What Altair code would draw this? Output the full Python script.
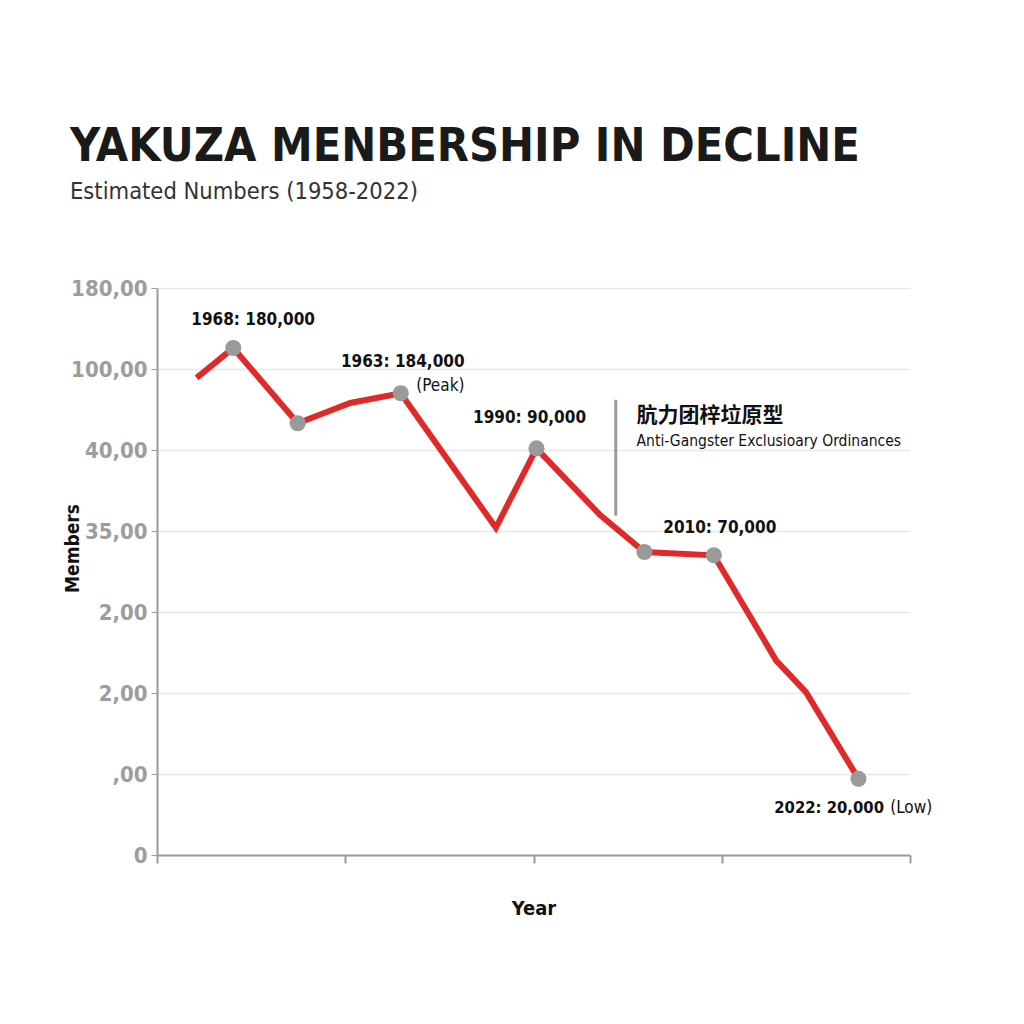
import json
import altair as alt
import pandas as pd

# ---- data ----
years = [1956, 1959.7, 1966.2, 1971.5, 1976.6, 1986.2, 1990.3, 1996.7, 2001.2, 2008.2, 2014.5, 2017.5, 2022.8]
levels = [5.89, 6.26, 5.33, 5.58, 5.70, 4.04, 5.02, 4.20, 3.74, 3.70, 2.40, 2.01, 0.94]
markers = [False, True, True, False, True, False, True, False, True, True, False, False, True]

y_tick_labels = ["0", ",00", "2,00", "2,00", "35,00", "40,00", "100,00", "180,00"]
x_ticks = [1952, 1971, 1990, 2009, 2028]

ann_text = ["1968: 180,000", "1963: 184,000", "(Peak)", "1990: 90,000", "2010: 70,000"]
ann_year = [1961.7, 1976.8, 1980.6, 1989.6, 2008.8]
ann_level = [6.60, 6.09, 5.79, 5.40, 4.04]
ann_bold = [True, True, False, True, True]

low_text = ["2022: 20,000", "(Low)"]
low_year = [2014.3, 2026.0]
low_level = [0.58, 0.58]

rule_year = [1998.3]
rule_top = [5.62]
rule_bottom = [4.19]

law_text = ["肮力团梓垃原型", "Anti-Gangster Exclusioary Ordinances"]
law_year = [2000.4, 2000.4]
law_level = [5.42, 5.11]

FONT = "'DejaVu Sans Condensed', 'Roboto Condensed', 'Liberation Sans Narrow', Roboto, sans-serif"

df = pd.DataFrame({"year": years, "level": levels, "marker": markers})
ann = pd.DataFrame({"text": ann_text, "year": ann_year, "level": ann_level, "bold": ann_bold})
low = pd.DataFrame({"text": low_text, "year": low_year, "level": low_level})
rule_df = pd.DataFrame({"year": rule_year, "top": rule_top, "bottom": rule_bottom})
law = pd.DataFrame({"text": law_text, "year": law_year, "level": law_level})

label_expr = json.dumps(y_tick_labels) + "[datum.value]"

xs = alt.Scale(domain=[1952, 2028], nice=False, zero=False)
ys = alt.Scale(domain=[0, 7], nice=False)

x_enc = alt.X("year:Q", scale=xs, title="Year",
              axis=alt.Axis(values=x_ticks, labels=False, grid=False, tickSize=8,
                            tickColor="#9a9a9a", domainColor="#9a9a9a", domainWidth=2,
                            tickWidth=2, titleFont=FONT, titleFontSize=20,
                            titleFontWeight="bold", titleColor="#111", titlePadding=34))
y_enc = alt.Y("level:Q", scale=ys, title="Members",
              axis=alt.Axis(values=list(range(8)), labelExpr=label_expr, grid=True,
                            gridColor="#e8e8e8", gridWidth=1.5, tickSize=6,
                            tickColor="#9a9a9a", domainColor="#9a9a9a", domainWidth=2,
                            labelFont=FONT, labelFontSize=22, labelColor="#9d9d9d",
                            labelFontWeight="bold", labelPadding=4,
                            titleFont=FONT, titleFontSize=19, titleFontWeight="bold",
                            titleColor="#111", titleX=-75, titleY=260,
                            titleAngle=270, titleBaseline="bottom", titleAlign="center"))

line = alt.Chart(df).mark_line(color="#e02a2a", strokeWidth=6, strokeJoin="miter").encode(x=x_enc, y=y_enc)
pts = alt.Chart(df).transform_filter("datum.marker").mark_circle(
    color="#9a9a9a", size=260, opacity=1).encode(x="year:Q", y="level:Q")

ann_b = alt.Chart(ann).transform_filter("datum.bold").mark_text(
    font=FONT, fontSize=17, fontWeight="bold", color="#111", align="center", baseline="middle"
).encode(x="year:Q", y="level:Q", text="text:N")
ann_r = alt.Chart(ann).transform_filter("!datum.bold").mark_text(
    font=FONT, fontSize=17, color="#111", align="center", baseline="middle"
).encode(x="year:Q", y="level:Q", text="text:N")

low_b = alt.Chart(low).transform_filter("datum.text != '(Low)'").mark_text(
    font=FONT, fontSize=16.5, fontWeight="bold", color="#111", align="left", baseline="middle"
).encode(x="year:Q", y="level:Q", text="text:N")
low_r = alt.Chart(low).transform_filter("datum.text == '(Low)'").mark_text(
    font=FONT, fontSize=17, color="#111", align="left", baseline="middle"
).encode(x="year:Q", y="level:Q", text="text:N")

rule = alt.Chart(rule_df).mark_rule(color="#9a9a9a", strokeWidth=3).encode(
    x="year:Q", y="top:Q", y2="bottom:Q")

law_cn = alt.Chart(law).transform_filter("indexof(datum.text, 'Anti') < 0").mark_text(
    font="Noto Sans CJK SC", fontSize=21, fontWeight="bold", color="#111", align="left", baseline="middle"
).encode(x="year:Q", y="level:Q", text="text:N")
law_en = alt.Chart(law).transform_filter("indexof(datum.text, 'Anti') >= 0").mark_text(
    font=FONT, fontSize=15.5, color="#111", align="left", baseline="middle"
).encode(x="year:Q", y="level:Q", text="text:N")

chart = alt.layer(line, pts, ann_b, ann_r, low_b, low_r, rule, law_cn, law_en).properties(
    width=753, height=567,
    background="white",
    autosize=alt.AutoSizeParams(type="none"),
    padding={"left": 149, "top": 280, "right": 106, "bottom": 161},
    title=alt.TitleParams(
        text="YAKUZA MENBERSHIP IN DECLINE",
        subtitle="Estimated Numbers (1958-2022)",
        anchor="start", frame="group", dx=-87, offset=74,
        font=FONT, fontSize=46.5, fontWeight="bold", color="#1a1a1a",
        subtitleFont=FONT, subtitleFontSize=23.5, subtitleColor="#333", subtitlePadding=9,
    ),
).configure_view(stroke="transparent", strokeWidth=0)

chart.save("out.html", embed_options={"renderer": "svg", "actions": False})
